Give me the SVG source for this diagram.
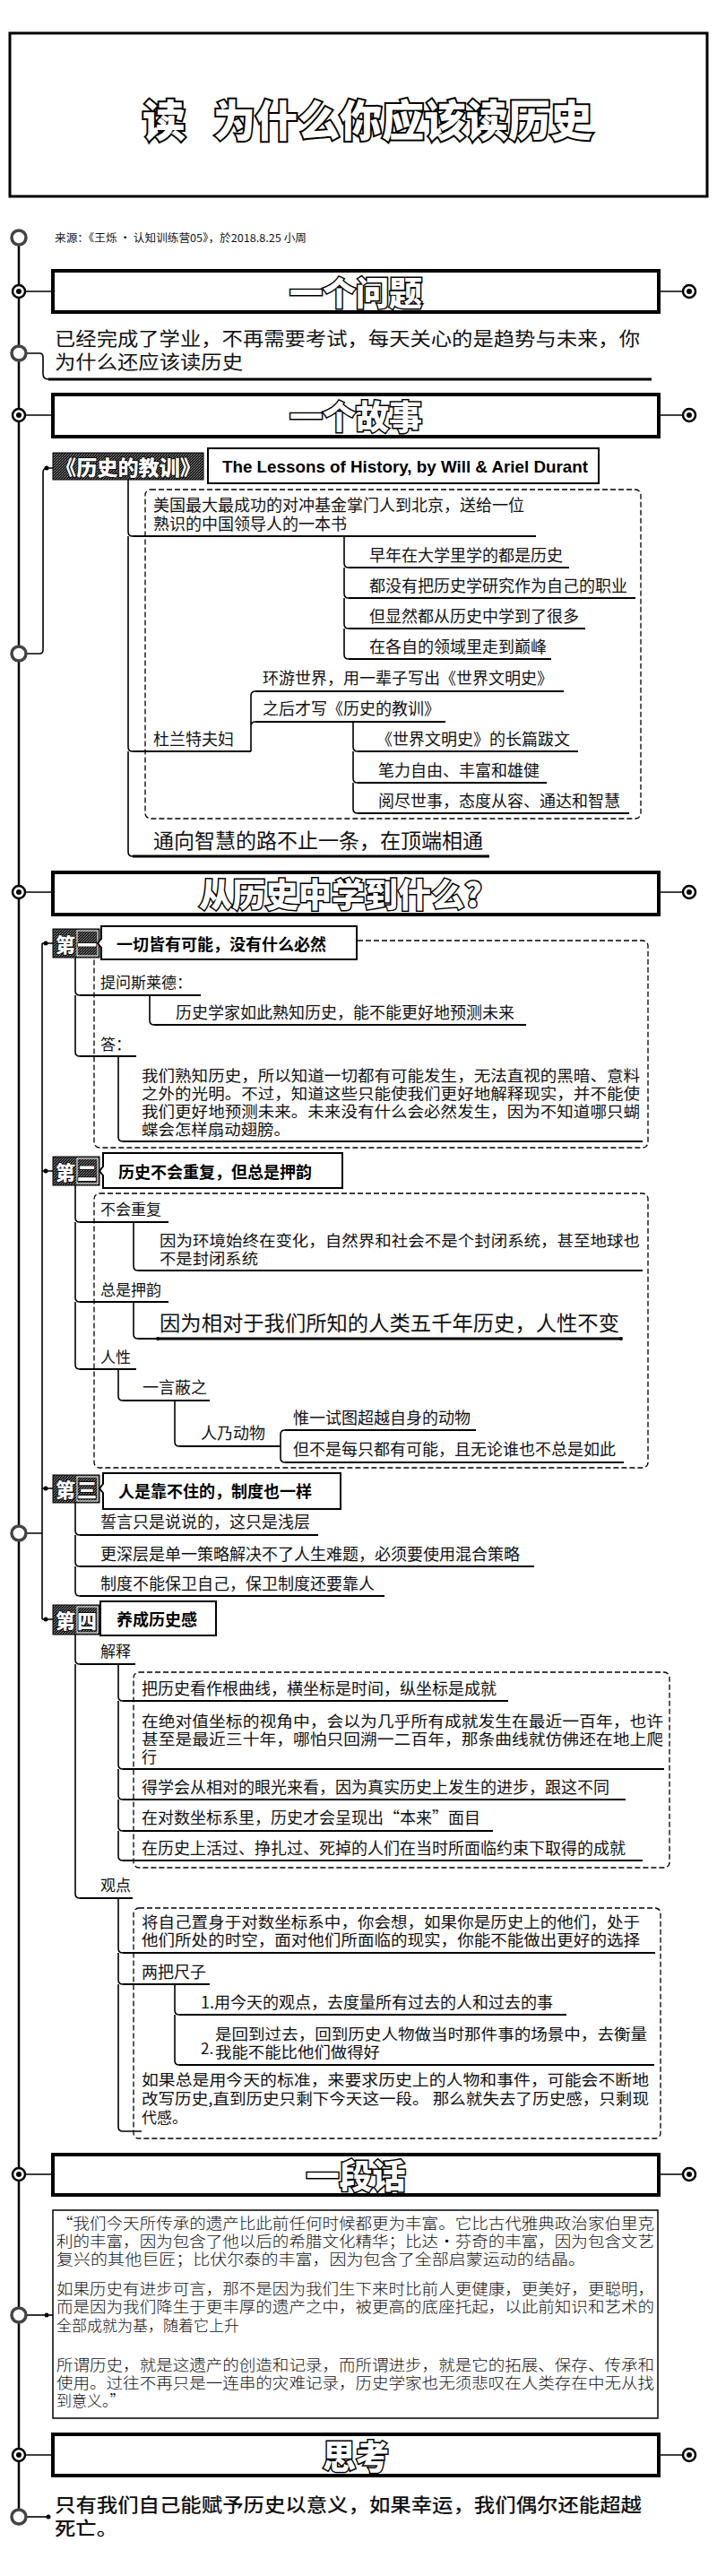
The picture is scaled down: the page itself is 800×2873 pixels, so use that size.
<svg xmlns="http://www.w3.org/2000/svg" width="800" height="2873" viewBox="0 0 800 2873">
<defs>
<pattern id="dither" width="3" height="3" patternUnits="userSpaceOnUse">
<rect width="3" height="3" fill="#1a1a1a"/>
<rect x="0" y="0" width="1" height="1" fill="#9a9a9a"/>
<rect x="2" y="1" width="1" height="1" fill="#6a6a6a"/>
<rect x="1" y="2" width="1" height="1" fill="#808080"/>
</pattern>
</defs>
<style>
.hd{fill:#fff;stroke:#000;stroke-width:4}
.ht{font-family:"Noto Sans CJK SC",sans-serif;font-weight:900;font-size:37px;fill:#fff;stroke:#000;stroke-width:3;paint-order:stroke;text-anchor:middle;dominant-baseline:central}
.t{font-family:"Noto Sans CJK SC",sans-serif;font-size:18px;fill:#111}
.p{font-family:"Noto Sans CJK SC",sans-serif;font-size:17px;fill:#111}
.s17{font-size:17px}
.big{font-size:23px}
.big2{font-family:"Noto Sans CJK SC",sans-serif;font-size:21px;fill:#111}
.ul{stroke:#000;stroke-width:2;fill:none}
.ul3{stroke:#000;stroke-width:3;fill:none}
.cn{stroke:#000;stroke-width:1.6;fill:none}
.tl{stroke:#000;stroke-width:2.5;fill:none}
.dash{fill:none;stroke:#000;stroke-width:1.3;stroke-dasharray:6 3}
.hc{fill:#fff;stroke:#444;stroke-width:3.5}
.tc{fill:#fff;stroke:#000;stroke-width:2.5}
.dot{fill:#000}
.bx{fill:#fff;stroke:#000;stroke-width:2}
.bt{font-family:"Noto Sans CJK SC",sans-serif;font-size:18px;font-weight:700;fill:#000;dominant-baseline:central}
.bd{fill:url(#dither);stroke:#000;stroke-width:1}
.bn{font-family:"Noto Sans CJK SC",sans-serif;font-weight:900;font-size:22px;fill:#fff;stroke:#000;stroke-width:1.5;paint-order:stroke;text-anchor:middle;dominant-baseline:central}
.q{font-family:"Noto Sans CJK SC",sans-serif;font-size:17px;font-weight:300;fill:#111}
</style>
<rect width="800" height="2873" fill="#fff"/>

<g id="title">
<rect x="11" y="37" width="778" height="182" fill="#fff" stroke="#000" stroke-width="3"/>
<text y="131" style="font-family:'Noto Sans CJK SC',sans-serif;font-weight:900;font-size:48px;fill:#fff;stroke:#000;stroke-width:4;paint-order:stroke;dominant-baseline:central"><tspan x="159">读</tspan><tspan x="238" textLength="423" lengthAdjust="spacingAndGlyphs">为什么你应该读历史</tspan></text>
</g>

<g id="connectors">
<line class="tl" x1="21" y1="273" x2="21" y2="2799"/>
<path class="cn" d="M28 325H59M735 325H762M28 463H59M735 463H762M28 995H59M735 995H762M28 2425H59M735 2425H762M28 2738H59M735 2738H762" stroke-width="2"/>
<path class="cn" d="M29 394H44Q48 394 48 398V417Q48 423 54 423H56"/>
<path class="cn" d="M29 729H44Q48 729 48 725V527Q48 522 53 522H59"/>
<path class="cn" d="M143 535V593Q143 598 148 598M143 598V833Q143 838 148 838M143 838V950Q143 955 148 955"/>
<path class="cn" d="M384 598V628Q384 633 389 633M384 633V662Q384 667 389 667M384 667V696Q384 701 389 701M384 701V730Q384 735 389 735"/>
<path class="cn" d="M280 838V776Q280 771 285 771M280 810Q280 805 285 805"/>
<path class="cn" d="M394 805V833Q394 838 399 838M394 838V868Q394 873 399 873M394 873V902Q394 907 399 907"/>
<path class="cn" d="M29 1710H47M47 1052V1806M47 1052H59M47 1306H59M47 1660H59M47 1806H59"/>
<path class="cn" d="M84 1068V1105Q84 1110 89 1110M84 1110V1173Q84 1178 89 1178"/>
<path class="cn" d="M167 1110V1138Q167 1143 172 1143"/>
<path class="cn" d="M132 1178V1268Q132 1273 137 1273"/>
<path class="cn" d="M84 1322V1358Q84 1363 89 1363M84 1363V1447Q84 1452 89 1452M84 1452V1522Q84 1527 89 1527"/>
<path class="cn" d="M149 1363V1412Q149 1417 154 1417"/>
<path class="cn" d="M149 1452V1488Q149 1493 154 1493"/>
<path class="cn" d="M132 1527V1557Q132 1562 137 1562"/>
<path class="cn" d="M195 1562V1608Q195 1613 200 1613"/>
<path class="cn" d="M313 1613V1600Q313 1595 318 1595M313 1613V1626Q313 1631 318 1631"/>
<path class="cn" d="M84 1675V1707Q84 1712 89 1712M84 1712V1742Q84 1747 89 1747M84 1747V1775Q84 1780 89 1780"/>
<path class="cn" d="M84 1823V1851Q84 1856 89 1856M84 1856V2112Q84 2117 89 2117"/>
<path class="cn" d="M132 1856V1892Q132 1897 137 1897M132 1897V1968Q132 1973 137 1973M132 1973V2002Q132 2007 137 2007M132 2007V2037Q132 2042 137 2042M132 2042V2070Q132 2075 137 2075"/>
<path class="cn" d="M132 2117V2173Q132 2178 137 2178M132 2178V2208Q132 2213 137 2213M132 2213V2372Q132 2377 137 2377H158"/>
<path class="cn" d="M195 2213V2242Q195 2247 200 2247M195 2247V2298Q195 2303 200 2303"/>
<path class="cn" d="M29 2582H59"/>
<path class="cn" d="M29 2807H54"/>
<circle class="dot" cx="52" cy="522" r="2.5"/>
<circle class="dot" cx="51" cy="1052" r="2.5"/>
<circle class="dot" cx="51" cy="1306" r="2.5"/>
<circle class="dot" cx="51" cy="1660" r="2.5"/>
<circle class="dot" cx="51" cy="1806" r="2.5"/>
<circle class="dot" cx="52" cy="2582" r="2.5"/>
<circle class="dot" cx="54" cy="2807" r="2.5"/>
<circle class="hc" cx="21" cy="265" r="8"/>
<circle class="hc" cx="21" cy="394" r="8"/>
<circle class="hc" cx="21" cy="729" r="8"/>
<circle class="hc" cx="21" cy="1710" r="8"/>
<circle class="hc" cx="21" cy="2582" r="8"/>
<circle class="hc" cx="21" cy="2807" r="8"/>
<g>
<circle class="tc" cx="21" cy="325" r="7"/><circle class="dot" cx="21" cy="325" r="3"/>
<circle class="tc" cx="769" cy="325" r="7"/><circle class="dot" cx="769" cy="325" r="3"/>
<circle class="tc" cx="21" cy="463" r="7"/><circle class="dot" cx="21" cy="463" r="3"/>
<circle class="tc" cx="769" cy="463" r="7"/><circle class="dot" cx="769" cy="463" r="3"/>
<circle class="tc" cx="21" cy="995" r="7"/><circle class="dot" cx="21" cy="995" r="3"/>
<circle class="tc" cx="769" cy="995" r="7"/><circle class="dot" cx="769" cy="995" r="3"/>
<circle class="tc" cx="21" cy="2425" r="7"/><circle class="dot" cx="21" cy="2425" r="3"/>
<circle class="tc" cx="769" cy="2425" r="7"/><circle class="dot" cx="769" cy="2425" r="3"/>
<circle class="tc" cx="21" cy="2738" r="7"/><circle class="dot" cx="21" cy="2738" r="3"/>
<circle class="tc" cx="769" cy="2738" r="7"/><circle class="dot" cx="769" cy="2738" r="3"/>
</g>
</g>

<g id="source"><text class="t" x="61" y="270" textLength="281" lengthAdjust="spacingAndGlyphs" style="font-size:12px">来源：《王烁 · 认知训练营05》，於2018.8.25 小周</text></g>

<g id="h-question"><rect class="hd" x="59" y="302" width="676" height="46"/><text class="ht" x="397" y="325">一个问题</text></g>
<g id="question">
<text class="big2"><tspan x="61" y="385" textLength="653" lengthAdjust="spacingAndGlyphs">已经完成了学业，不再需要考试，每天关心的是趋势与未来，你</tspan><tspan x="61" y="411" textLength="210" lengthAdjust="spacingAndGlyphs">为什么还应该读历史</tspan></text>
<path class="ul3" d="M54 423H727"/>
</g>

<g id="h-story"><rect class="hd" x="59" y="440" width="676" height="47"/><text class="ht" x="397" y="463">一个故事</text></g>

<g id="book">
<rect class="bd" x="59" y="505" width="168" height="30"/>
<text x="143" y="520" textLength="162" lengthAdjust="spacingAndGlyphs" style="font-family:'Noto Sans CJK SC',sans-serif;font-weight:900;font-size:23px;fill:#fff;stroke:#000;stroke-width:1.5;paint-order:stroke;text-anchor:middle;dominant-baseline:central">《历史的教训》</text>
<rect class="bx" x="232" y="500" width="436" height="39"/>
<text x="248" y="527" textLength="408" lengthAdjust="spacingAndGlyphs" style="font-family:'Liberation Sans',sans-serif;font-weight:700;font-size:19px">The Lessons of History, by Will &amp; Ariel Durant</text>
</g>

<rect class="dash" x="162" y="546" width="553" height="367" rx="6"/>

<g id="n-gift"><text class="t"><tspan x="171" y="570">美国最大最成功的对冲基金掌门人到北京，送给一位</tspan><tspan x="171" y="591">熟识的中国领导人的一本书</tspan></text><path class="ul" d="M148 598H598"/></g>
<g id="n-g1"><text class="t" x="412" y="626">早年在大学里学的都是历史</text><path class="ul" d="M389 633H635"/></g>
<g id="n-g2"><text class="t" x="412" y="660">都没有把历史学研究作为自己的职业</text><path class="ul" d="M389 667H709"/></g>
<g id="n-g3"><text class="t" x="412" y="694">但显然都从历史中学到了很多</text><path class="ul" d="M389 701H653"/></g>
<g id="n-g4"><text class="t" x="412" y="728">在各自的领域里走到巅峰</text><path class="ul" d="M389 735H615"/></g>
<g id="n-durant"><text class="t" x="171" y="831">杜兰特夫妇</text><path class="ul" d="M148 838H280"/></g>
<g id="n-d1"><text class="t" x="293" y="763">环游世界，用一辈子写出《世界文明史》</text><path class="ul" d="M285 771H629"/></g>
<g id="n-d2"><text class="t" x="293" y="797">之后才写《历史的教训》</text><path class="ul" d="M285 805H497"/></g>
<g id="n-d21"><text class="t" x="420" y="831">《世界文明史》的长篇跋文</text><path class="ul" d="M399 838H645"/></g>
<g id="n-d22"><text class="t" x="422" y="866">笔力自由、丰富和雄健</text><path class="ul" d="M399 873H610"/></g>
<g id="n-d23"><text class="t" x="422" y="900">阅尽世事，态度从容、通达和智慧</text><path class="ul" d="M399 907H702"/></g>
<g id="n-wisdom"><text class="t big" x="171" y="946">通向智慧的路不止一条，在顶端相通</text><path class="ul3" d="M148 955H546"/></g>

<g id="h-learn"><rect class="hd" x="59" y="973" width="676" height="47"/><text class="ht" x="380" y="996">从历史中学到什么?</text></g>

<rect class="dash" x="105" y="1049" width="618" height="231" rx="6"/>
<g id="b1">
<rect class="bd" x="59" y="1036" width="52" height="32"/>
<rect x="86" y="1038" width="23" height="28" fill="none" stroke="#fff" stroke-width="1"/>
<text class="bn" x="73" y="1052">第</text><text class="bn" x="97" y="1052">一</text>
<path class="bx" d="M113 1033H398V1070H113V1057L109 1052L113 1047Z"/>
<text class="bt" x="130" y="1052">一切皆有可能，没有什么必然</text>
</g>
<g id="n-ask"><text class="t s17" x="112" y="1102">提问斯莱德：</text><path class="ul" d="M89 1110H224"/></g>
<g id="n-ask1"><text class="t" x="196" y="1136">历史学家如此熟知历史，能不能更好地预测未来</text><path class="ul" d="M172 1143H587"/></g>
<g id="n-ans"><text class="t s17" x="112" y="1171">答：</text><path class="ul" d="M89 1178H152"/></g>
<g id="n-ans1">
<text class="p"><tspan x="158" y="1206" textLength="556" lengthAdjust="spacingAndGlyphs">我们熟知历史，所以知道一切都有可能发生，无法直视的黑暗、意料</tspan><tspan x="158" y="1226" textLength="556" lengthAdjust="spacingAndGlyphs">之外的光明。不过，知道这些只能使我们更好地解释现实，并不能使</tspan><tspan x="158" y="1246" textLength="556" lengthAdjust="spacingAndGlyphs">我们更好地预测未来。未来没有什么会必然发生，因为不知道哪只蝴</tspan><tspan x="158" y="1266" textLength="166" lengthAdjust="spacingAndGlyphs">蝶会怎样扇动翅膀。</tspan></text>
<path class="ul" d="M137 1273H717"/>
</g>

<rect class="dash" x="105" y="1331" width="618" height="306" rx="6"/>
<g id="b2">
<rect class="bd" x="59" y="1290" width="52" height="32"/>
<rect x="86" y="1292" width="23" height="28" fill="none" stroke="#fff" stroke-width="1"/>
<text class="bn" x="73" y="1306">第</text><text class="bn" x="97" y="1306">二</text>
<path class="bx" d="M115 1286H382V1325H115V1311L111 1306L115 1301Z"/>
<text class="bt" x="132" y="1306">历史不会重复，但总是押韵</text>
</g>
<g id="n-norep"><text class="t s17" x="112" y="1355">不会重复</text><path class="ul" d="M89 1363H188"/></g>
<g id="n-norep1"><text class="p"><tspan x="178" y="1390" textLength="536" lengthAdjust="spacingAndGlyphs">因为环境始终在变化，自然界和社会不是个封闭系统，甚至地球也</tspan><tspan x="178" y="1410" textLength="110" lengthAdjust="spacingAndGlyphs">不是封闭系统</tspan></text><path class="ul" d="M154 1417H717"/></g>
<g id="n-rhyme"><text class="t s17" x="112" y="1445">总是押韵</text><path class="ul" d="M89 1452H188"/></g>
<g id="n-rhyme1"><text class="t big" x="178" y="1484" textLength="513" lengthAdjust="spacingAndGlyphs">因为相对于我们所知的人类五千年历史，人性不变</text><path class="ul" d="M154 1493H176"/><path class="ul3" d="M176 1493H693"/><circle class="dot" cx="176" cy="1493" r="2"/><circle class="dot" cx="693" cy="1493" r="2"/></g>
<g id="n-nature"><text class="t s17" x="112" y="1520">人性</text><path class="ul" d="M89 1527H152"/></g>
<g id="n-word"><text class="t" x="159" y="1554">一言蔽之</text><path class="ul" d="M137 1562H234"/></g>
<g id="n-animal"><text class="t" x="224" y="1605">人乃动物</text><path class="ul" d="M200 1613H313"/></g>
<g id="n-an1"><text class="t" x="327" y="1588">惟一试图超越自身的动物</text><path class="ul" d="M318 1595H531"/></g>
<g id="n-an2"><text class="t" x="327" y="1623">但不是每只都有可能，且无论谁也不总是如此</text><path class="ul" d="M318 1631H696"/></g>

<g id="b3">
<rect class="bd" x="59" y="1645" width="52" height="31"/>
<rect x="86" y="1647" width="23" height="27" fill="none" stroke="#fff" stroke-width="1"/>
<text class="bn" x="73" y="1660">第</text><text class="bn" x="97" y="1660">三</text>
<path class="bx" d="M115 1643H380V1683H115V1665L111 1660L115 1655Z"/>
<text class="bt" x="132" y="1662">人是靠不住的，制度也一样</text>
</g>
<g id="n-oath"><text class="t" x="112" y="1704">誓言只是说说的，这只是浅层</text><path class="ul" d="M89 1712H355"/></g>
<g id="n-deep"><text class="t" x="112" y="1740">更深层是单一策略解决不了人生难题，必须要使用混合策略</text><path class="ul" d="M89 1747H596"/></g>
<g id="n-inst"><text class="t" x="112" y="1773">制度不能保卫自己，保卫制度还要靠人</text><path class="ul" d="M89 1780H429"/></g>

<g id="b4">
<rect class="bd" x="59" y="1790" width="52" height="33"/>
<rect x="86" y="1792" width="23" height="29" fill="none" stroke="#fff" stroke-width="1"/>
<text class="bn" x="73" y="1806">第</text><text class="bn" x="97" y="1806">四</text>
<rect class="bx" x="112" y="1786" width="129" height="38"/>
<text class="bt" x="130" y="1805">养成历史感</text>
</g>
<g id="n-explain"><text class="t s17" x="112" y="1848">解释</text><path class="ul" d="M89 1856H151"/></g>
<rect class="dash" x="149" y="1865" width="598" height="218" rx="6"/>
<g id="n-e1"><text class="t" x="158" y="1890">把历史看作根曲线，横坐标是时间，纵坐标是成就</text><path class="ul" d="M137 1897H567"/></g>
<g id="n-e2"><text class="p"><tspan x="158" y="1926" textLength="582" lengthAdjust="spacingAndGlyphs">在绝对值坐标的视角中，会以为几乎所有成就发生在最近一百年，也许</tspan><tspan x="158" y="1946" textLength="582" lengthAdjust="spacingAndGlyphs">甚至是最近三十年，哪怕只回溯一二百年，那条曲线就仿佛还在地上爬</tspan><tspan x="158" y="1966">行</tspan></text><path class="ul" d="M137 1973H741"/></g>
<g id="n-e3"><text class="t" x="158" y="2000">得学会从相对的眼光来看，因为真实历史上发生的进步，跟这不同</text><path class="ul" d="M137 2007H698"/></g>
<g id="n-e4"><text class="t" x="158" y="2034">在对数坐标系里，历史才会呈现出“本来”面目</text><path class="ul" d="M137 2042H550"/></g>
<g id="n-e5"><text class="t" x="158" y="2068">在历史上活过、挣扎过、死掉的人们在当时所面临约束下取得的成就</text><path class="ul" d="M137 2075H717"/></g>
<g id="n-view"><text class="t s17" x="112" y="2109">观点</text><path class="ul" d="M89 2117H148"/></g>
<rect class="dash" x="149" y="2128" width="588" height="257" rx="6"/>
<g id="n-v1"><text class="p"><tspan x="158" y="2150" textLength="556" lengthAdjust="spacingAndGlyphs">将自己置身于对数坐标系中，你会想，如果你是历史上的他们，处于</tspan><tspan x="158" y="2170" textLength="556" lengthAdjust="spacingAndGlyphs">他们所处的时空，面对他们所面临的现实，你能不能做出更好的选择</tspan></text><path class="ul" d="M137 2178H731"/></g>
<g id="n-v2"><text class="t" x="158" y="2206">两把尺子</text><path class="ul" d="M137 2213H234"/></g>
<g id="n-v21"><text class="t" x="224" y="2240">1.用今天的观点，去度量所有过去的人和过去的事</text><path class="ul" d="M200 2247H632"/></g>
<g id="n-v22"><text class="p"><tspan x="224" y="2291">2.</tspan><tspan x="240" y="2275" textLength="482" lengthAdjust="spacingAndGlyphs">是回到过去，回到历史人物做当时那件事的场景中，去衡量</tspan><tspan x="240" y="2295" textLength="184" lengthAdjust="spacingAndGlyphs">我能不能比他们做得好</tspan></text><path class="ul" d="M200 2303H730"/></g>
<g id="n-v3"><text class="p"><tspan x="158" y="2326" textLength="566" lengthAdjust="spacingAndGlyphs">如果总是用今天的标准，来要求历史上的人物和事件，可能会不断地</tspan><tspan x="158" y="2347" textLength="566" lengthAdjust="spacingAndGlyphs">改写历史,直到历史只剩下今天这一段。 那么就失去了历史感，只剩现</tspan><tspan x="158" y="2368">代感。</tspan></text></g>

<g id="h-para"><rect class="hd" x="59" y="2403" width="676" height="45"/><text class="ht" x="397" y="2425">一段话</text></g>
<g id="quote">
<rect x="59" y="2465" width="675" height="232" fill="#fff" stroke="#000" stroke-width="1.5"/>
<text class="q"><tspan x="63" y="2486" textLength="667" lengthAdjust="spacingAndGlyphs">“我们今天所传承的遗产比此前任何时候都更为丰富。它比古代雅典政治家伯里克</tspan><tspan x="63" y="2506" textLength="667" lengthAdjust="spacingAndGlyphs">利的丰富，因为包含了他以后的希腊文化精华；比达·芬奇的丰富，因为包含文艺</tspan><tspan x="63" y="2526" textLength="590" lengthAdjust="spacingAndGlyphs">复兴的其他巨匠；比伏尔泰的丰富，因为包含了全部启蒙运动的结晶。</tspan><tspan x="63" y="2559" textLength="667" lengthAdjust="spacingAndGlyphs">如果历史有进步可言，那不是因为我们生下来时比前人更健康，更美好，更聪明，</tspan><tspan x="63" y="2579" textLength="667" lengthAdjust="spacingAndGlyphs">而是因为我们降生于更丰厚的遗产之中，被更高的底座托起，以此前知识和艺术的</tspan><tspan x="63" y="2600">全部成就为基，随着它上升</tspan><tspan x="63" y="2644" textLength="667" lengthAdjust="spacingAndGlyphs">所谓历史，就是这遗产的创造和记录，而所谓进步，就是它的拓展、保存、传承和</tspan><tspan x="63" y="2664" textLength="667" lengthAdjust="spacingAndGlyphs">使用。过往不再只是一连串的灾难记录，历史学家也无须悲叹在人类存在中无从找</tspan><tspan x="63" y="2684">到意义。”</tspan></text>
</g>

<g id="h-think"><rect class="hd" x="59" y="2715" width="676" height="46"/><text class="ht" x="397" y="2738">思考</text></g>
<g id="final">
<text class="big2" style="font-weight:500"><tspan x="61" y="2801" textLength="655" lengthAdjust="spacingAndGlyphs">只有我们自己能赋予历史以意义，如果幸运，我们偶尔还能超越</tspan><tspan x="61" y="2827" textLength="70" lengthAdjust="spacingAndGlyphs">死亡。</tspan></text>
</g>
</svg>
